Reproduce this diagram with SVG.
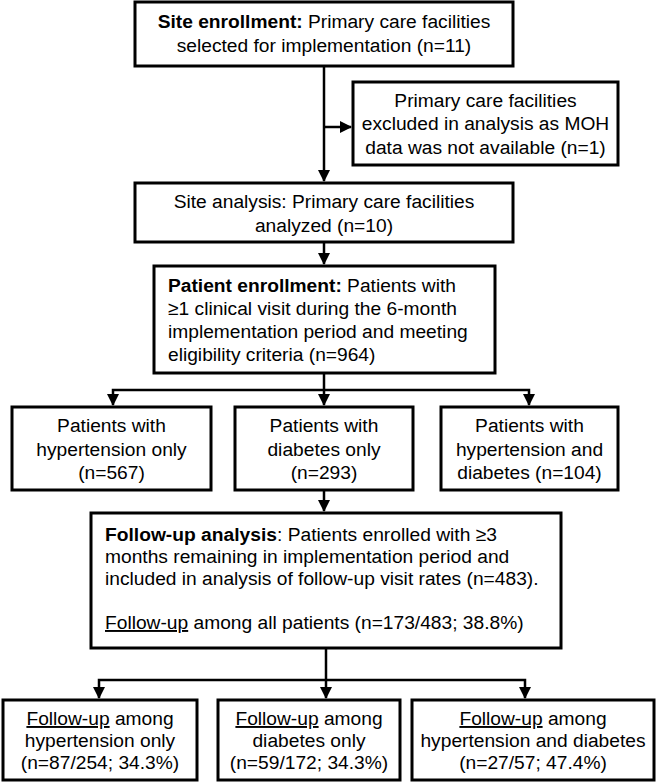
<svg xmlns="http://www.w3.org/2000/svg" width="660" height="784" viewBox="0 0 660 784">
<style>
.box{fill:#fff;stroke:#000;stroke-width:3}
.t{font-family:"Liberation Sans",Arial,sans-serif;font-size:19.2px;fill:#000}
.c{text-anchor:middle}
.b{font-weight:bold}
.u{text-decoration:underline}
.con{fill:none;stroke:#000;stroke-width:2.5}
</style>
<defs>
<marker id="ah" markerUnits="userSpaceOnUse" markerWidth="12" markerHeight="12" refX="11" refY="6" orient="auto">
<path d="M0,0 L12,6 L0,12 z" fill="#000"/>
</marker>
</defs>
<g id="connectors">
<path class="con" d="M324,66 V181" marker-end="url(#ah)"/>
<path class="con" d="M324,127 H351" marker-end="url(#ah)"/>
<path class="con" d="M324,242 V264" marker-end="url(#ah)"/>
<path class="con" d="M324,373 V405" marker-end="url(#ah)"/>
<path class="con" d="M324,390 H113 V405" marker-end="url(#ah)"/>
<path class="con" d="M324,390 H529 V405" marker-end="url(#ah)"/>
<path class="con" d="M324,490 V511" marker-end="url(#ah)"/>
<path class="con" d="M326,648 V698" marker-end="url(#ah)"/>
<path class="con" d="M326,680 H99 V698" marker-end="url(#ah)"/>
<path class="con" d="M326,680 H525 V698" marker-end="url(#ah)"/>
</g>
<g id="site-enrollment">
<rect class="box" x="135" y="2" width="378" height="64"/>
<text class="t c" x="324" y="28"><tspan class="b">Site enrollment:</tspan> Primary care facilities</text>
<text class="t c" x="324" y="52">selected for implementation (n=11)</text>
</g>
<g id="excluded">
<rect class="box" x="353" y="82" width="265" height="83"/>
<text class="t c" x="485.5" y="107">Primary care facilities</text>
<text class="t c" x="485.5" y="130">excluded in analysis as MOH</text>
<text class="t c" x="485.5" y="154">data was not available (n=1)</text>
</g>
<g id="site-analysis">
<rect class="box" x="135" y="183" width="378" height="59"/>
<text class="t c" x="324" y="208">Site analysis: Primary care facilities</text>
<text class="t c" x="324" y="232">analyzed (n=10)</text>
</g>
<g id="patient-enrollment">
<rect class="box" x="154" y="266" width="341" height="107"/>
<text class="t" x="168" y="292"><tspan class="b">Patient enrollment:</tspan> Patients with</text>
<text class="t" x="168" y="315">≥1 clinical visit during the 6-month</text>
<text class="t" x="168" y="338">implementation period and meeting</text>
<text class="t" x="168" y="361">eligibility criteria (n=964)</text>
</g>
<g id="htn-only">
<rect class="box" x="12" y="407" width="199" height="83"/>
<text class="t c" x="111.5" y="432">Patients with</text>
<text class="t c" x="111.5" y="456">hypertension only</text>
<text class="t c" x="111.5" y="479">(n=567)</text>
</g>
<g id="dm-only">
<rect class="box" x="235" y="407" width="178" height="83"/>
<text class="t c" x="324" y="432">Patients with</text>
<text class="t c" x="324" y="456">diabetes only</text>
<text class="t c" x="324" y="479">(n=293)</text>
</g>
<g id="htn-dm">
<rect class="box" x="441" y="407" width="177" height="83"/>
<text class="t c" x="529.5" y="432">Patients with</text>
<text class="t c" x="529.5" y="456">hypertension and</text>
<text class="t c" x="529.5" y="479">diabetes (n=104)</text>
</g>
<g id="follow-up-analysis">
<rect class="box" x="91" y="513" width="470" height="135"/>
<text class="t" x="105" y="541" textLength="392" lengthAdjust="spacingAndGlyphs"><tspan class="b">Follow-up analysis</tspan>: Patients enrolled with ≥3</text>
<text class="t" x="105" y="563">months remaining in implementation period and</text>
<text class="t" x="105" y="585">included in analysis of follow-up visit rates (n=483).</text>
<text class="t" x="105" y="629"><tspan class="u">Follow-up</tspan> among all patients (n=173/483; 38.8%)</text>
</g>
<g id="fu-htn">
<rect class="box" x="3" y="700" width="194" height="80"/>
<text class="t c" x="100" y="725"><tspan class="u">Follow-up</tspan> among</text>
<text class="t c" x="100" y="747">hypertension only</text>
<text class="t c" x="100" y="769">(n=87/254; 34.3%)</text>
</g>
<g id="fu-dm">
<rect class="box" x="218" y="700" width="182" height="80"/>
<text class="t c" x="309" y="725"><tspan class="u">Follow-up</tspan> among</text>
<text class="t c" x="309" y="747">diabetes only</text>
<text class="t c" x="309" y="769">(n=59/172; 34.3%)</text>
</g>
<g id="fu-htn-dm">
<rect class="box" x="412" y="700" width="242" height="80"/>
<text class="t c" x="533" y="725"><tspan class="u">Follow-up</tspan> among</text>
<text class="t c" x="533" y="747">hypertension and diabetes</text>
<text class="t c" x="533" y="769">(n=27/57; 47.4%)</text>
</g>
</svg>
